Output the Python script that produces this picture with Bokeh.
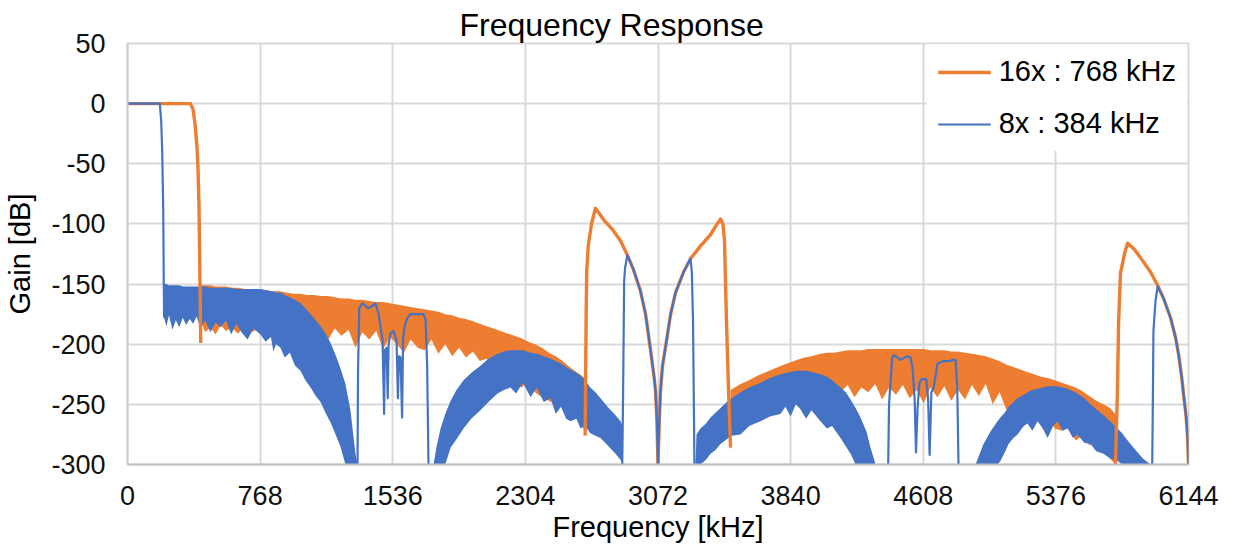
from bokeh.plotting import figure
from bokeh.models import Range1d, FixedTicker, Legend, LegendItem
from bokeh.embed import file_html
from bokeh.resources import INLINE

ORANGE = "#ED7D31"
BLUE = "#4472C4"
FONT = "Liberation Sans"

TITLE = "Frequency Response"

# ---- axes ----
x_ticks = [0, 768, 1536, 2304, 3072, 3840, 4608, 5376, 6144]
y_ticks = [-300, -250, -200, -150, -100, -50, 0, 50]
y_tick_labels = ["-300", "-250", "-200", "-150", "-100", "-50", "0", "50"]

# ---- 16x : 768 kHz (orange) : traced curve segments ----
o_pass_f = [0, 365, 380, 392, 402, 408, 414, 420, 424]
o_pass_g = [0, 0, -5, -18, -35, -52, -85, -150, -199]
o_lobeA_f = [2650, 2653, 2656, 2659, 2668, 2687, 2710, 2760, 2810, 2855, 2895, 2930, 2971, 3000,
             3029, 3050, 3058, 3066, 3072, 3078, 3086, 3098, 3116, 3145, 3174, 3220, 3260, 3320,
             3376, 3410, 3434, 3448, 3457, 3469, 3480, 3492]
o_lobeA_g = [-276, -228, -175, -140, -118, -100, -87, -97, -105, -114, -126, -138, -156, -175,
             -205, -228, -239, -265, -300, -270, -240, -218, -202, -175, -157, -140, -129, -118,
             -109, -101, -96, -100, -114, -183, -236, -286]
o_lobeB_f = [5721, 5733, 5739, 5750, 5773, 5791, 5830, 5866, 5924, 5965, 6000, 6040, 6070, 6086,
             6105, 6115, 6130, 6139, 6144]
o_lobeB_g = [-300, -236, -183, -141, -125, -116, -121, -128, -140, -151, -162, -178, -195, -208,
             -228, -241, -260, -278, -300]

# orange dense stop-band regions (upper / lower envelope)
ob1_f = [420, 430, 450, 480, 510, 540, 570, 600, 640, 680, 720, 760, 800, 840, 880, 920, 960, 1000,
         1040, 1080, 1120, 1160, 1200, 1240, 1280, 1320, 1360, 1400, 1440, 1480, 1520, 1560, 1600,
         1640, 1680, 1720, 1760, 1800, 1840, 1880, 1920, 1960, 2000, 2040, 2080, 2120, 2160, 2200,
         2240, 2280, 2320, 2360, 2400, 2440, 2480, 2520, 2560, 2600, 2630, 2655]
ob1_top = [-150, -151, -151, -151, -152, -152, -152, -153, -153, -154, -154, -155, -155, -156, -156,
           -157, -158, -158, -159, -159, -160, -160, -161, -162, -162, -163, -163, -164, -165, -165,
           -166, -167, -168, -169, -170, -171, -172, -173, -175, -176, -178, -179, -181, -183, -185,
           -187, -189, -191, -193, -195, -198, -200, -203, -207, -210, -214, -219, -223, -226, -229]
ob1_low = [-199, -183, -190, -186, -192, -184, -189, -186, -191, -185, -190, -187, -193, -186, -189,
           -185, -192, -188, -195, -186, -190, -197, -187, -193, -188, -203, -190, -196, -189, -204,
           -194, -200, -207, -196, -203, -205, -196, -208, -200, -210, -203, -211, -206, -214, -212,
           -220, -216, -222, -230, -236, -232, -240, -244, -247, -250, -248, -256, -262, -266, -276]

ob2_f = [3492, 3505, 3550, 3600, 3650, 3700, 3750, 3800, 3840, 3880, 3920, 3960, 4013, 4050, 4090,
         4129, 4170, 4210, 4250, 4290, 4330, 4370, 4410, 4450, 4490, 4530, 4570, 4610, 4650, 4690,
         4730, 4770, 4810, 4850, 4890, 4930, 4970, 5010, 5050, 5090, 5130, 5170, 5210, 5250, 5290,
         5330, 5370, 5410, 5450, 5490, 5530, 5570, 5610, 5650, 5690, 5720]
ob2_top = [-238, -237, -233, -230, -226, -223, -220, -217, -215, -213, -211, -210, -208, -207, -207,
           -206, -205, -205, -205, -204, -204, -204, -204, -204, -204, -204, -204, -204, -205, -205,
           -205, -206, -206, -207, -208, -209, -210, -212, -214, -217, -219, -221, -223, -225, -227,
           -228, -230, -232, -234, -236, -239, -243, -247, -250, -253, -258]
ob2_low = [-290, -252, -258, -254, -262, -250, -256, -246, -244, -240, -238, -241, -235, -239, -233,
           -240, -234, -244, -236, -240, -233, -246, -236, -242, -234, -245, -238, -249, -236, -244,
           -235, -247, -238, -246, -234, -243, -233, -250, -240, -255, -248, -258, -262, -258, -266,
           -262, -270, -272, -268, -280, -276, -284, -282, -288, -295, -300]

# ---- 8x : 384 kHz (blue) : traced curve segments ----
b_pass_f = [0, 187, 195, 201, 207, 210, 212]
b_pass_g = [0, 0, -14, -39, -89, -150, -178]
b_lobeA_f = [2865, 2870, 2876, 2882, 2895, 2930, 2971, 3000, 3029, 3050, 3058, 3066, 3072, 3078,
             3086, 3098, 3116, 3145, 3174, 3220, 3260, 3268, 3275, 3283]
b_lobeA_g = [-300, -240, -147, -136, -126, -138, -156, -175, -205, -228, -239, -265, -300, -270,
             -240, -218, -202, -175, -157, -140, -129, -140, -183, -300]
b_lobeB_f = [5934, 5938, 5941, 5953, 5965, 6000, 6040, 6070, 6086, 6105, 6115, 6130, 6139, 6144]
b_lobeB_g = [-300, -240, -189, -164, -152, -162, -178, -195, -208, -228, -241, -260, -278, -300]
b_img1_f = [1332, 1335, 1342, 1361, 1378, 1392, 1410, 1436, 1454, 1470, 1477, 1486, 1490, 1500,
            1507, 1512, 1523, 1540, 1558, 1566, 1572, 1581, 1590, 1596, 1605, 1621, 1639, 1679,
            1714, 1726, 1735, 1743]
b_img1_g = [-300, -222, -170, -166, -168, -170, -169, -166, -175, -190, -197, -258, -205, -203,
            -245, -200, -191, -189, -197, -245, -210, -211, -261, -195, -185, -178, -175, -175,
            -175, -180, -216, -300]
b_img2_f = [4405, 4410, 4428, 4440, 4476, 4515, 4534, 4546, 4558, 4566, 4575, 4586, 4600, 4625,
            4636, 4645, 4655, 4668, 4691, 4725, 4760, 4783, 4795, 4805, 4812]
b_img2_g = [-300, -250, -211, -209, -213, -210, -211, -220, -245, -290, -253, -232, -229, -229,
            -245, -292, -240, -236, -216, -214, -214, -213, -213, -236, -300]

# blue dense stop-band regions (upper / lower envelope)
bb1_f = [212, 225, 240, 260, 280, 300, 320, 340, 360, 380, 400, 423, 450, 480, 510, 540, 570, 600,
         630, 660, 695, 730, 770, 800, 830, 845, 860, 886, 910, 940, 970, 1002, 1030, 1060, 1090,
         1118, 1150, 1176, 1205, 1233, 1262, 1291, 1320, 1332]
bb1_top = [-150, -150, -151, -151, -151, -151, -152, -152, -152, -152, -152, -152, -152, -153, -153,
           -153, -153, -153, -154, -154, -154, -154, -154, -155, -156, -156, -157, -157, -159, -161,
           -163, -166, -170, -175, -180, -185, -192, -199, -209, -220, -233, -255, -291, -300]
bb1_low = [-178, -185, -176, -188, -180, -186, -178, -184, -179, -183, -177, -187, -180, -190, -182,
           -186, -180, -192, -183, -190, -196, -187, -192, -198, -194, -206, -200, -203, -211, -207,
           -218, -222, -230, -236, -243, -248, -258, -265, -275, -285, -300, -300, -300, -300]

bb2_f = [1772, 1790, 1813, 1840, 1871, 1905, 1946, 1990, 2044, 2090, 2143, 2180, 2218, 2250, 2290,
         2334, 2370, 2410, 2450, 2480, 2510, 2540, 2565, 2600, 2623, 2650, 2680, 2710, 2739, 2780,
         2826, 2855, 2867]
bb2_top = [-300, -285, -270, -258, -247, -238, -230, -224, -218, -212, -208, -206, -205, -205, -205,
           -207, -208, -210, -212, -214, -216, -219, -221, -224, -226, -230, -236, -240, -245, -252,
           -259, -264, -268]
bb2_low = [-300, -300, -300, -300, -286, -279, -270, -262, -255, -248, -241, -238, -236, -241, -232,
           -244, -236, -248, -245, -258, -252, -262, -264, -262, -270, -268, -274, -276, -278, -284,
           -291, -296, -300]

bb3_f = [3289, 3295, 3318, 3350, 3376, 3405, 3434, 3470, 3500, 3550, 3600, 3666, 3720, 3781, 3810,
         3840, 3870, 3897, 3930, 3960, 4013, 4050, 4080, 4129, 4160, 4187, 4216, 4245, 4280, 4303,
         4332]
bb3_top = [-300, -275, -270, -266, -261, -257, -253, -248, -245, -240, -236, -232, -228, -225, -224,
           -223, -222, -222, -222, -223, -225, -227, -230, -236, -240, -246, -253, -261, -273, -286,
           -300]
bb3_low = [-300, -300, -300, -296, -291, -288, -283, -279, -276, -275, -268, -264, -260, -258, -252,
           -260, -250, -254, -262, -255, -264, -270, -268, -278, -285, -291, -300, -300, -300, -300,
           -300]

bb4_f = [4911, 4957, 5000, 5038, 5055, 5080, 5102, 5130, 5154, 5190, 5212, 5240, 5270, 5300, 5328,
         5360, 5386, 5415, 5444, 5475, 5501, 5540, 5577, 5610, 5652, 5690, 5733, 5760, 5780, 5826,
         5880, 5924]
bb4_top = [-300, -283, -272, -264, -261, -257, -252, -248, -245, -242, -240, -238, -237, -236, -235,
           -235, -235, -236, -237, -239, -241, -245, -250, -254, -259, -264, -270, -274, -278, -286,
           -295, -300]
bb4_low = [-300, -300, -300, -300, -297, -290, -283, -278, -275, -268, -266, -272, -264, -270, -278,
           -268, -264, -272, -270, -278, -275, -282, -283, -289, -291, -295, -297, -300, -300, -300,
           -300, -300]

# ---- figure ----
p = figure(width=1233, height=552, output_backend="svg", toolbar_location=None,
           x_range=Range1d(0, 6144), y_range=Range1d(-300, 50),
           min_border_left=127, min_border_right=45, min_border_top=43, min_border_bottom=88,
           title=TITLE, background_fill_color="white", border_fill_color="white")

p.title.align = "left"
p.title.offset = 332
p.title.text_font = FONT
p.title.text_font_size = "32px"
p.title.text_font_style = "normal"
p.title.text_color = "#000000"
p.title.vertical_align = "middle"
p.title.standoff = 0

p.outline_line_color = "#D9D9D9"
p.outline_line_width = 2

p.xaxis.ticker = FixedTicker(ticks=x_ticks)
p.yaxis.ticker = FixedTicker(ticks=y_ticks)
p.yaxis.major_label_overrides = {t: s for t, s in zip(y_ticks, y_tick_labels)}
p.xaxis.axis_label = "Frequency [kHz]"
p.yaxis.axis_label = "Gain [dB]"
for ax in (p.xaxis, p.yaxis):
    ax.major_tick_line_color = None
    ax.minor_tick_line_color = None
    ax.major_tick_out = 0
    ax.major_tick_in = 0
    ax.major_label_text_font = FONT
    ax.major_label_text_font_size = "27px"
    ax.major_label_text_color = "#111111"
    ax.axis_label_text_font = FONT
    ax.axis_label_text_font_size = "29px"
    ax.axis_label_text_font_style = "normal"
    ax.axis_label_text_color = "#000000"
p.xaxis.axis_line_color = "#BFBFBF"
p.xaxis.axis_line_width = 2
p.yaxis.axis_line_color = "#CFCFCF"
p.yaxis.axis_line_width = 2
p.xaxis.major_label_standoff = 21
p.xaxis.axis_label_standoff = 3
p.yaxis.major_label_standoff = 22
p.yaxis.axis_label_standoff = 12

p.xgrid.grid_line_color = "#D9D9D9"
p.ygrid.grid_line_color = "#D9D9D9"
p.xgrid.grid_line_width = 2
p.ygrid.grid_line_width = 2

# dense regions: orange first, blue over it
for f, lo, hi in [(ob1_f, ob1_low, ob1_top), (ob2_f, ob2_low, ob2_top)]:
    p.varea(x=f, y1=lo, y2=hi, fill_color=ORANGE)
for f, lo, hi in [(bb1_f, bb1_low, bb1_top), (bb2_f, bb2_low, bb2_top),
                  (bb3_f, bb3_low, bb3_top), (bb4_f, bb4_low, bb4_top)]:
    p.varea(x=f, y1=lo, y2=hi, fill_color=BLUE)

o_line = p.multi_line(xs=[o_pass_f, o_lobeA_f, o_lobeB_f], ys=[o_pass_g, o_lobeA_g, o_lobeB_g],
                      line_color=ORANGE, line_width=3.4, line_join="round")
b_line = p.multi_line(xs=[b_pass_f, b_img1_f, b_lobeA_f, b_img2_f, b_lobeB_f],
                      ys=[b_pass_g, b_img1_g, b_lobeA_g, b_img2_g, b_lobeB_g],
                      line_color=BLUE, line_width=2.2, line_join="round")

legend = Legend(items=[LegendItem(label="16x : 768 kHz", renderers=[o_line]),
                       LegendItem(label="8x : 384 kHz", renderers=[b_line])],
                location="top_right", margin=1, padding=10, spacing=19,
                glyph_width=53, glyph_height=32, label_height=32, label_standoff=8,
                label_text_font=FONT, label_text_font_size="29px", label_text_color="#000000",
                border_line_color="white", border_line_width=1,
                background_fill_color="white", background_fill_alpha=1.0)
p.add_layout(legend)

open("out.html", "w").write(file_html(p, INLINE))
